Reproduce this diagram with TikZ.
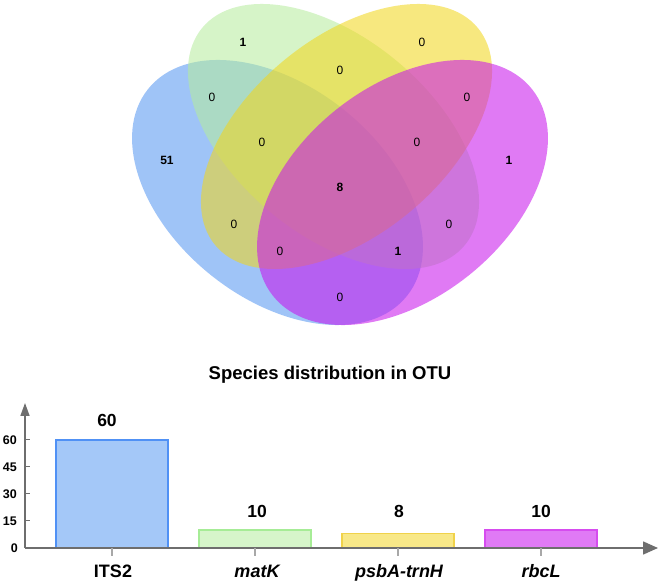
\documentclass[tikz,border=0pt]{standalone}
\usepackage{fontspec}
\setmainfont{Liberation Sans}
\usetikzlibrary{arrows.meta}
\definecolor{vblue}{RGB}{85,150,242}
\definecolor{vgreen}{RGB}{182,237,157}
\definecolor{vyellow}{RGB}{242,214,28}
\definecolor{vmag}{RGB}{200,18,237}
\definecolor{bblue}{RGB}{164,200,248}
\definecolor{bgreen}{RGB}{214,245,202}
\definecolor{byellow}{RGB}{248,232,136}
\definecolor{bmag}{RGB}{224,122,245}
\definecolor{eblue}{RGB}{80,145,245}
\definecolor{egreen}{RGB}{166,236,150}
\definecolor{eyellow}{RGB}{240,210,74}
\definecolor{emag}{RGB}{214,76,239}
\definecolor{axisgray}{RGB}{110,110,110}
\begin{document}
\begin{tikzpicture}[x=1pt,y=1pt,
  vset/.style={fill opacity=0.56},
  zlab/.style={font=\fontsize{12}{12}\selectfont, inner sep=0pt},
  nlab/.style={font=\fontsize{12}{12}\selectfont\bfseries, inner sep=0pt},
  bar/.style={line width=1.2pt},
  ytl/.style={font=\fontsize{12.5}{12.5}\selectfont\bfseries, anchor=east, inner sep=0pt},
  vallab/.style={font=\fontsize{17.5}{17.5}\selectfont\bfseries, anchor=base, inner sep=0pt},
  xlab/.style={font=\fontsize{18}{18}\selectfont\bfseries, anchor=base, inner sep=0pt},
  axisline/.style={draw=axisgray, line width=1.6pt},
  xtick/.style={draw=axisgray!60, line width=1.4pt}
]
\useasboundingbox (0,0) rectangle (659,584);
\fill[white] (0,0) rectangle (659,584);
% Venn ellipses
\fill[vblue, vset, rotate around={-38.6:(277.5,391.5)}] (277.5,391.5) ellipse [x radius=165.7, y radius=106.1];
\fill[vgreen, vset, rotate around={-39.6:(333.5,447.5)}] (333.5,447.5) ellipse [x radius=170.4, y radius=98.5];
\fill[vyellow, vset, rotate around={39.6:(346.5,447.5)}] (346.5,447.5) ellipse [x radius=170.4, y radius=98.5];
\fill[vmag, vset, rotate around={38.6:(402.5,391.5)}] (402.5,391.5) ellipse [x radius=165.7, y radius=106.1];
% Venn numbers
\node[nlab] (g1) at (243,542) {1};
\node[zlab] (y0) at (422,542) {0};
\node[zlab] (gy) at (340,514) {0};
\node[zlab] (bg) at (212,487) {0};
\node[zlab] (ym) at (467,487) {0};
\node[nlab] (b51) at (167,424) {51};
\node[nlab] (m1) at (509,424) {1};
\node[zlab] (bgy) at (262,442) {0};
\node[zlab] (gym) at (417,442) {0};
\node[nlab] (all) at (340,397) {8};
\node[zlab] (by) at (234,360) {0};
\node[zlab] (gm) at (449,360) {0};
\node[zlab] (bym) at (280,333) {0};
\node[nlab] (bgm) at (398,333) {1};
\node[zlab] (bm) at (340,287) {0};
% title
\node[font=\fontsize{18.5}{18.5}\selectfont\bfseries, anchor=base, inner sep=0pt] (title) at (330,204) {Species distribution in OTU};
% bars
\draw[bar, fill=bblue, draw=eblue] (56,36) rectangle (168,144);
\draw[bar, fill=bgreen, draw=egreen] (199,36) rectangle (311,54);
\draw[bar, fill=byellow, draw=eyellow] (342,36) rectangle (454,50.4);
\draw[bar, fill=bmag, draw=emag] (485,36) rectangle (597,54);
% axes
\coordinate (O) at (25,36);
\coordinate (ytip) at (25,181);
\coordinate (xtip) at (658,36);
\draw[axisline, -{Triangle[length=13pt,width=9pt]}, fill=axisgray] (O) -- (ytip);
\draw[axisline, -{Triangle[length=15pt,width=13pt]}, fill=axisgray] (O) -- (xtip);
\foreach \v/\y in {15/63,30/90,45/117,60/144}{
  \draw[draw=axisgray, line width=1pt] (25,\y) -- (30,\y);
  \node[ytl] (yt\v) at (17,\y) {\v};
}
\node[ytl] (yt0) at (18,36) {0};
\foreach \x/\n in {112/a,255/b,398/c,541/d}{
  \coordinate (t\n) at (\x,36);
  \coordinate (tt\n) at (\x,28);
  \draw[xtick] (t\n) -- (tt\n);
}
% value labels
\node[vallab] (v1) at (107,157) {60};
\node[vallab] (v2) at (257,66) {10};
\node[vallab] (v3) at (399,66) {8};
\node[vallab] (v4) at (541,66) {10};
% x labels
\node[xlab] (x1) at (113,6) {ITS2};
\node[xlab] (x2) at (257,6) {\itshape matK};
\node[xlab] (x3) at (399,6) {\itshape psbA-trnH};
\node[xlab] (x4) at (541,6) {\itshape rbcL};
\end{tikzpicture}
\end{document}
